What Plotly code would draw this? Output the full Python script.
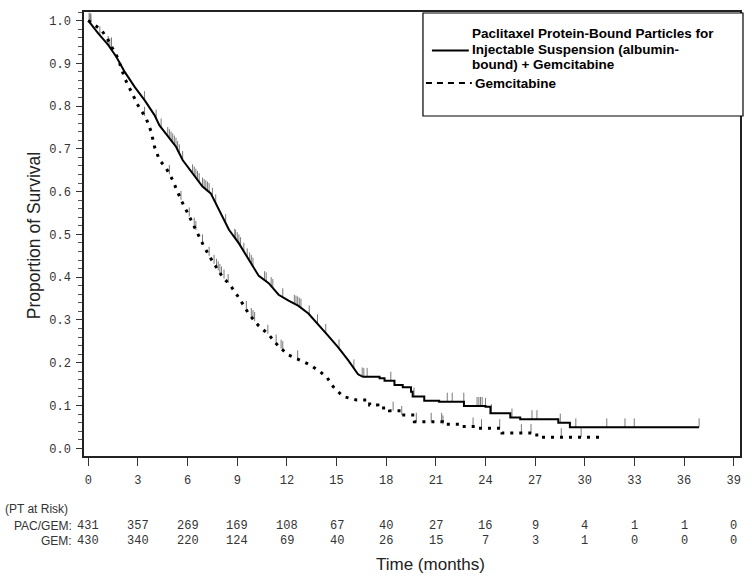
import numpy as np
import plotly.graph_objects as go

# ---------------- data ----------------
# PAC/GEM Kaplan-Meier curve vertices (months, proportion surviving)
pac_t = [0, 0.6, 1.2, 1.7, 2.2, 2.8, 3.4, 4.0, 4.3, 4.7, 5.0, 5.3, 5.7, 6.3, 6.9, 7.4, 7.9,
         8.5, 9.1, 9.7, 10.3, 10.9, 11.5, 12.1, 12.7, 13.3, 13.9, 14.5, 15.1, 15.7, 16.3, 16.6,
         17.6, 17.6, 17.9, 17.9, 18.5, 18.5, 19.0, 19.0, 19.5, 19.5, 19.6, 19.6, 20.3, 20.3,
         21.2, 21.2, 22.7, 22.7, 24.0, 24.0, 24.3, 24.3, 25.5, 25.5, 26.1, 26.1, 28.4, 28.4,
         29.1, 29.1, 36.9]
pac_s = [1.0, 0.97, 0.943, 0.915, 0.88, 0.845, 0.814, 0.779, 0.755, 0.735, 0.72, 0.705, 0.674,
         0.643, 0.612, 0.596, 0.557, 0.511, 0.479, 0.44, 0.403, 0.386, 0.359, 0.345, 0.333,
         0.315, 0.29, 0.263, 0.236, 0.206, 0.173, 0.167,
         0.167, 0.164, 0.164, 0.158, 0.158, 0.148, 0.148, 0.143, 0.143, 0.132, 0.132, 0.121,
         0.121, 0.111, 0.111, 0.109, 0.109, 0.099, 0.099, 0.097, 0.097, 0.082, 0.082, 0.072,
         0.072, 0.068, 0.068, 0.060, 0.060, 0.049, 0.049]

# GEM Kaplan-Meier curve vertices
gem_t = [0, 0.4, 0.8, 1.2, 1.8, 2.2, 2.6, 3.0, 3.5, 3.8, 4.0, 4.3, 4.7, 5.1, 5.3, 5.6, 6.0,
         6.3, 6.6, 6.9, 7.3, 7.7, 8.1, 8.6, 9.1, 9.7, 10.3, 10.9, 11.5, 12.1, 12.7, 13.4, 14.0,
         14.4, 14.8, 15.4, 16.2,
         17.0, 17.0, 17.5, 17.5, 18.2, 18.2, 18.9, 18.9, 19.7, 19.7, 21.4, 21.4, 22.5, 22.5,
         23.6, 23.6, 25.0, 25.0, 27.1, 27.1, 31.2]
gem_s = [1.0, 0.99, 0.978, 0.954, 0.911, 0.865, 0.833, 0.802, 0.771, 0.74, 0.705, 0.674, 0.655,
         0.627, 0.608, 0.581, 0.55, 0.526, 0.503, 0.479, 0.45, 0.425, 0.401, 0.38, 0.352, 0.314,
         0.286, 0.266, 0.238, 0.218, 0.207, 0.195, 0.179, 0.167, 0.144, 0.121, 0.113,
         0.113, 0.101, 0.101, 0.094, 0.094, 0.088, 0.088, 0.078, 0.078, 0.062, 0.062, 0.056,
         0.056, 0.051, 0.051, 0.047, 0.047, 0.036, 0.036, 0.026, 0.026]

# censoring times
pac_cens = [0.05, 0.1, 0.15, 0.7, 1.2, 1.3, 1.4, 3.4, 4.1, 4.4, 4.8, 4.9, 5.0, 5.1, 5.2, 5.3,
            5.4, 5.5, 5.7, 6.3, 6.4, 6.5, 6.6, 6.7, 6.9, 7.0, 7.1, 7.2, 7.3, 7.5, 7.7, 8.3,
            8.85, 8.9, 9.0, 9.1, 9.2, 9.4, 9.6, 9.75, 9.85, 9.95, 10.65, 10.75, 11.05, 11.15,
            11.75, 12.45, 12.55, 12.65, 12.75, 12.85, 13.35, 13.85, 14.35, 15.15, 16.05, 16.55,
            16.65, 16.85, 18.28, 19.68, 21.69, 21.99, 22.69, 23.49, 23.6, 23.7, 23.8, 24.0,
            24.36, 25.6, 26.81, 27.11, 28.52, 29.46, 31.33, 32.43, 32.99, 36.91]
gem_cens = [0.15, 1.4, 3.4, 4.9, 5.6, 6.1, 6.4, 6.5, 6.9, 7.3, 7.6, 7.75, 7.85, 7.95, 8.05,
            8.2, 8.45, 9.55, 9.85, 9.95, 10.05, 10.85, 11.35, 11.65, 11.75, 12.65, 18.42,
            18.94, 19.82, 20.72, 21.35, 21.43, 23.25, 23.76, 24.86, 26.17, 26.75, 28.58, 29.78]

x_ticks = [0, 3, 6, 9, 12, 15, 18, 21, 24, 27, 30, 33, 36, 39]
y_ticks = [0.0, 0.1, 0.2, 0.3, 0.4, 0.5, 0.6, 0.7, 0.8, 0.9, 1.0]
pac_risk = [431, 357, 269, 169, 108, 67, 40, 27, 16, 9, 4, 1, 1, 0]
gem_risk = [430, 340, 220, 124, 69, 40, 26, 15, 7, 3, 1, 0, 0, 0]

pac_name = "Paclitaxel Protein-Bound Particles for Injectable Suspension (albumin-bound) + Gemcitabine"
pac_legend_lines = ["Paclitaxel Protein-Bound Particles for",
                    "Injectable Suspension (albumin-",
                    "bound) + Gemcitabine"]
gem_name = "Gemcitabine"

# ---------------- geometry helpers ----------------
W, H = 752, 577
L, R, T, B = 84, 742, 12, 456  # plot area in pixels


def pxx(px):
    return (px - L) / (R - L)


def pxy(py):
    return (B - py) / (B - T)


CENS_H = 0.021


def cens_segments(times, ct, cs):
    xs, ys = [], []
    for t in times:
        s = float(np.interp(t, ct, cs))
        xs += [t, t, None]
        ys += [s, s + CENS_H, None]
    return xs, ys


fig = go.Figure()

for times, ct, cs in [(pac_cens, pac_t, pac_s), (gem_cens, gem_t, gem_s)]:
    cx, cy = cens_segments(times, ct, cs)
    fig.add_trace(go.Scatter(x=cx, y=cy, mode="lines", line=dict(color="#7a7a7a", width=1),
                             showlegend=False, hoverinfo="skip"))

fig.add_trace(go.Scatter(x=pac_t, y=pac_s, mode="lines", name=pac_name,
                         line=dict(color="black", width=2), showlegend=False))
fig.add_trace(go.Scatter(x=gem_t, y=gem_s, mode="lines", name=gem_name,
                         line=dict(color="black", width=3, dash="3px,6px"), showlegend=False))

mono = "Liberation Mono, Courier New, monospace"
sans = "Liberation Sans, Arial, sans-serif"

fig.update_layout(
    width=W, height=H, autosize=False,
    margin=dict(l=L, r=W - R, t=T, b=H - B),
    paper_bgcolor="white", plot_bgcolor="white",
    showlegend=False,
    xaxis=dict(range=[-0.26, 39.38], tickmode="array", tickvals=x_ticks,
               ticktext=[str(v) for v in x_ticks],
               ticks="outside", ticklen=8, tickwidth=1, tickcolor="#333",
               showline=True, linecolor="#222", linewidth=1.5, mirror=True,
               showgrid=False, zeroline=False,
               tickfont=dict(family=mono, size=12, color="#333"), ticklabelstandoff=4),
    yaxis=dict(range=[-0.018, 1.02], tickmode="array", tickvals=y_ticks,
               ticktext=[f"{v:.1f}" for v in y_ticks],
               ticks="outside", ticklen=6, tickwidth=1, tickcolor="#333",
               minor=dict(dtick=0.02, tick0=0, ticks="outside", ticklen=4, tickcolor="#555",
                          showgrid=False),
               showline=True, linecolor="#222", linewidth=1.5, mirror=True,
               showgrid=False, zeroline=False,
               tickfont=dict(family=mono, size=12, color="#333"), ticklabelstandoff=3),
)

ann = []
# axis titles
ann.append(dict(text="Proportion of Survival", x=pxx(34), y=pxy(236), xref="paper", yref="paper",
                showarrow=False, textangle=-90, font=dict(family=sans, size=17.5, color="#222"),
                xanchor="center", yanchor="middle"))
ann.append(dict(text="Time (months)", x=pxx(432), y=pxy(564), xref="paper", yref="paper",
                showarrow=False, font=dict(family=sans, size=17, color="#222"),
                xanchor="center", yanchor="middle"))
# risk table
ann.append(dict(text="(PT at Risk)", x=pxx(3), y=pxy(509), xref="paper", yref="paper",
                showarrow=False, font=dict(family=sans, size=12, color="#333"),
                xanchor="left", yanchor="middle"))
ann.append(dict(text="PAC/GEM:", x=pxx(74), y=pxy(526), xref="paper", yref="paper",
                showarrow=False, font=dict(family=sans, size=12, color="#333"),
                xanchor="right", yanchor="middle"))
ann.append(dict(text="GEM:", x=pxx(74), y=pxy(541), xref="paper", yref="paper",
                showarrow=False, font=dict(family=sans, size=12, color="#333"),
                xanchor="right", yanchor="middle"))
for xv, a, b in zip(x_ticks, pac_risk, gem_risk):
    ann.append(dict(text=str(a), x=xv, y=pxy(526), xref="x", yref="paper", showarrow=False,
                    font=dict(family=mono, size=12, color="#333"), xanchor="center", yanchor="middle"))
    ann.append(dict(text=str(b), x=xv, y=pxy(541), xref="x", yref="paper", showarrow=False,
                    font=dict(family=mono, size=12, color="#333"), xanchor="center", yanchor="middle"))

# legend (drawn manually to match the compact layout of the reference)
LEG_FS = 13.5
leg_line_y = [33.5, 49, 64.5]
for line, ly in zip(pac_legend_lines, leg_line_y):
    ann.append(dict(text="<b>" + line + "</b>", x=pxx(472), y=pxy(ly), xref="paper",
                    yref="paper", showarrow=False, borderpad=0,
                    font=dict(family=sans, size=LEG_FS, color="black"),
                    xanchor="left", yanchor="middle"))
ann.append(dict(text="<b>" + gem_name + "</b>", x=pxx(475), y=pxy(83), xref="paper", yref="paper",
                showarrow=False, borderpad=0, font=dict(family=sans, size=LEG_FS, color="black"),
                xanchor="left", yanchor="middle"))

shapes = [
    dict(type="rect", xref="paper", yref="paper", x0=pxx(424), x1=pxx(745), y0=pxy(116),
         y1=pxy(13), line=dict(color="black", width=1.2), fillcolor="white", layer="above"),
    dict(type="line", xref="paper", yref="paper", x0=pxx(433), x1=pxx(470), y0=pxy(50.5),
         y1=pxy(50.5), line=dict(color="black", width=2)),
    dict(type="line", xref="paper", yref="paper", x0=pxx(427), x1=pxx(473), y0=pxy(83),
         y1=pxy(83), line=dict(color="black", width=2, dash="6px,5px")),
]
fig.update_layout(annotations=ann, shapes=shapes)

fig.write_html("out.html", config={"displayModeBar": False},
               post_script="document.body.style.margin='0';")
